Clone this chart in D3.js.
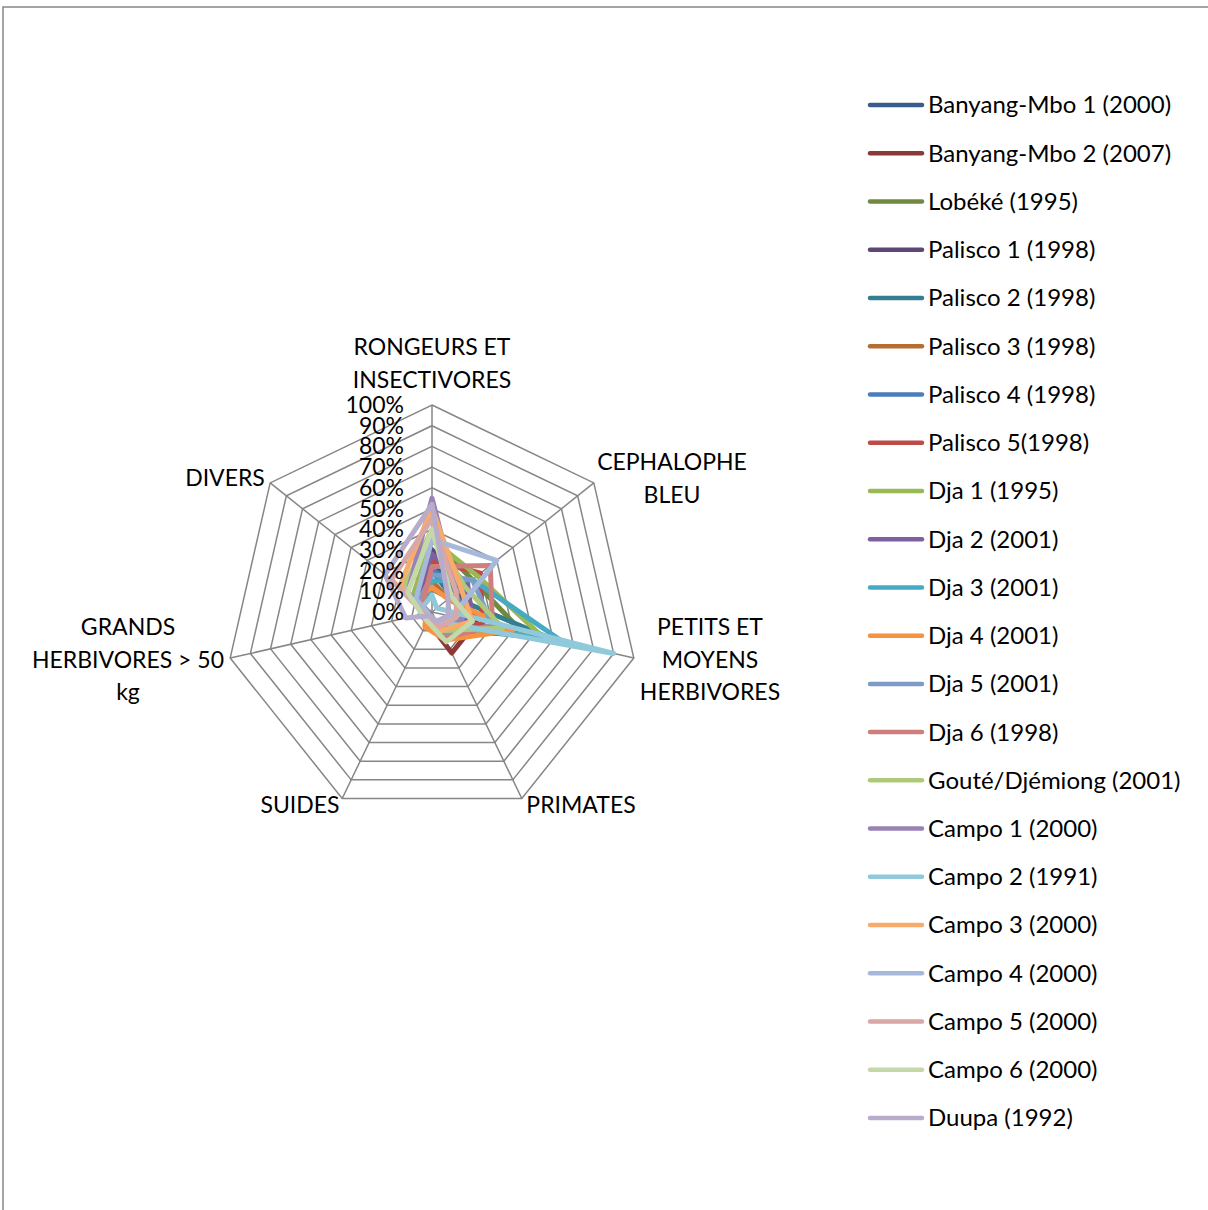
<!DOCTYPE html>
<html><head><meta charset="utf-8">
<script src="https://cdn.jsdelivr.net/npm/d3@7"></script>
<style>body{margin:0;background:#fff;} text{font-family:Lato,"Open Sans",sans-serif;fill:#000;}</style>
</head><body>
<svg id="c" width="1208" height="1210"></svg>
<script>
const axes = [["RONGEURS ET","INSECTIVORES"],["CEPHALOPHE","BLEU"],["PETITS ET","MOYENS","HERBIVORES"],["PRIMATES"],["SUIDES"],["GRANDS","HERBIVORES > 50","kg"],["DIVERS"]];
const tickLabels = ["0%","10%","20%","30%","40%","50%","60%","70%","80%","90%","100%"];
const seriesNames = ["Banyang-Mbo 1 (2000)","Banyang-Mbo 2 (2007)","Lobéké (1995)","Palisco 1 (1998)","Palisco 2 (1998)","Palisco 3 (1998)","Palisco 4 (1998)","Palisco 5(1998)","Dja 1 (1995)","Dja 2 (2001)","Dja 3 (2001)","Dja 4 (2001)","Dja 5 (2001)","Dja 6 (1998)","Gouté/Djémiong (2001)","Campo 1 (2000)","Campo 2 (1991)","Campo 3 (2000)","Campo 4 (2000)","Campo 5 (2000)","Campo 6 (2000)","Duupa (1992)"];
const seriesColors = ["#385D8A","#8C3836","#71893F","#5C4776","#357D91","#B66D31","#4A7EBB","#BE4B48","#98B954","#7D60A0","#46AAC5","#F69240","#7E9BC8","#CE7E7D","#AFC97A","#9983B5","#8FC9DA","#F9AB6B","#A7B9DB","#D8A7A6","#C5D8A9","#B7ACCB"];
// values in % : [Rongeurs, Céphalophe bleu, Petits et moyens herb., Primates, Suidés, Grands herb., Divers]
const v01 = [25,15,20,10,3,2,8];
const v02 = [30,20,22,22,5,3,6];
const v03 = [35,25,45,12,4,3,10];
const v04 = [30,18,18,8,3,2,10];
const v05 = [20,12,60,8,4,5,8];
const v06 = [15,10,35,10,5,3,12];
const v07 = [20,20,15,12,4,3,8];
const v08 = [25,30,25,10,5,2,7];
const v09 = [35,28,55,8,3,2,12];
const v10 = [28,22,20,6,4,2,10];
const v11 = [15,25,65,5,5,6,5];
const v12 = [12,10,40,15,8,3,10];
const v13 = [18,25,30,12,5,3,8];
const v14 = [22,36,30,14,4,2,6];
const v15 = [40,20,35,10,4,3,18];
const v16 = [55,15,15,8,3,2,15];
const v17 = [8,3,90,5,3,5,5];
const v18 = [50,18,20,10,5,4,20];
const v19 = [35,40,10,6,3,2,10];
const v20 = [45,15,12,8,3,4,25];
const v21 = [40,12,20,16,5,5,15];
const v22 = [52,10,8,5,2,13,29];
const seriesValues = [v01,v02,v03,v04,v05,v06,v07,v08,v09,v10,v11,v12,v13,v14,v15,v16,v17,v18,v19,v20,v21,v22];

const svg = d3.select("#c");
const cx = 432, cy = 612, R = 207;
const r = d3.scaleLinear().domain([0,100]).range([0,R]);
const n = axes.length;
const ang = i => i*2*Math.PI/n;
const pt = (i,val) => [cx + r(val)*Math.sin(ang(i)), cy - r(val)*Math.cos(ang(i))];

// frame
svg.append("rect").attr("x",3).attr("y",7).attr("width",1220).attr("height",1220)
  .attr("fill","none").attr("stroke","#868686").attr("stroke-width",1.5);

const grid = svg.append("g");
d3.range(10,101,10).forEach(lv=>{
  grid.append("polygon").attr("points", d3.range(n).map(i=>pt(i,lv).join(",")).join(" "))
    .attr("fill","none").attr("stroke","#868686").attr("stroke-width",1.5);
});
d3.range(n).forEach(i=>{
  const p = pt(i,100);
  grid.append("line").attr("x1",cx).attr("y1",cy).attr("x2",p[0]).attr("y2",p[1])
    .attr("stroke","#868686").attr("stroke-width",1.5);
});

// series
const line = d3.line().curve(d3.curveLinearClosed);
seriesValues.forEach((vals,s)=>{
  svg.append("path").attr("d", line(vals.map((v,i)=>pt(i,v))))
    .attr("fill","none").attr("stroke",seriesColors[s]).attr("stroke-width",5)
    .attr("stroke-linejoin","round").attr("stroke-linecap","round");
});

// tick labels
tickLabels.forEach((t,k)=>{
  svg.append("text").attr("x",404).attr("y",cy - r(k*10)).attr("dy","0.35em")
    .attr("text-anchor","end").attr("font-size",23).text(t);
});

// axis labels
const labelPos = [[432,347],[672,462],[710,627],[581,805],[300,805],[128,627],[225,478]];
axes.forEach((lines,i)=>{
  lines.forEach((l,j)=>{
    svg.append("text").attr("x",labelPos[i][0]).attr("y",labelPos[i][1]+j*32.5).attr("dy","0.35em")
      .attr("text-anchor","middle").attr("font-size",23).text(l);
  });
});

// legend
const lg = svg.append("g");
seriesNames.forEach((nm,s)=>{
  const y = 105 + s*48.24;
  lg.append("line").attr("x1",870).attr("x2",922).attr("y1",y).attr("y2",y)
    .attr("stroke",seriesColors[s]).attr("stroke-width",4.5).attr("stroke-linecap","round");
  lg.append("text").attr("x",928).attr("y",y).attr("dy","0.35em").attr("font-size",24).text(nm);
});
</script>
</body></html>
